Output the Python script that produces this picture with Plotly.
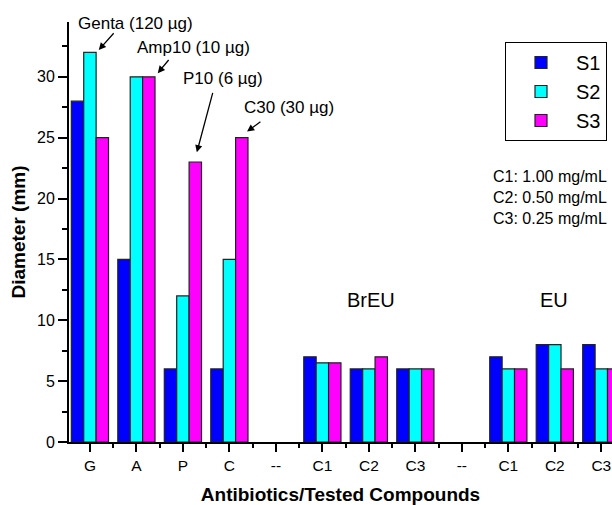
import plotly.graph_objects as go

categories = ["G", "A", "P", "C", "--", "C1", "C2", "C3", "--", "C1", "C2", "C3"]
series_names = ["S1", "S2", "S3"]
s1 = [28, 15, 6, 6, None, 7, 6, 6, None, 7, 8, 8]
s2 = [32, 30, 12, 15, None, 6.5, 6, 6, None, 6, 8, 6]
s3 = [25, 30, 23, 25, None, 6.5, 7, 6, None, 6, 6, 6]
colors = ["#0000FF", "#00FFFF", "#FF00FF"]

FONT = "Arial, Liberation Sans, sans-serif"
xpos = list(range(len(categories)))

fig = go.Figure()
for name, vals, col in zip(series_names, [s1, s2, s3], colors):
    fig.add_trace(go.Bar(
        x=xpos, y=vals, name=name,
        marker=dict(color=col, line=dict(color="#222222", width=1.2)),
    ))

# arrow annotations (tip at bar top, tail near label)
arrows = [
    dict(x=0.19, y=32.2, ax=0.54, ay=33.7),
    dict(x=1.46, y=30.3, ax=1.72, ay=31.5),
    dict(x=2.30, y=23.8, ax=2.65, ay=28.8),
    dict(x=3.38, y=25.5, ax=3.70, ay=26.4),
]
labels = [
    dict(text="Genta (120 µg)", x=0.99, y=34.35),
    dict(text="Amp10 (10 µg)", x=2.22, y=32.4),
    dict(text="P10 (6 µg)", x=2.86, y=29.9),
    dict(text="C30 (30 µg)", x=4.28, y=27.5),
    dict(text="BrEU", x=6.04, y=11.7, size=20),
    dict(text="EU", x=9.98, y=11.7, size=20),
]
for a in arrows:
    fig.add_annotation(x=a["x"], y=a["y"], ax=a["ax"], ay=a["ay"], xref="x", yref="y",
                       axref="x", ayref="y", text="", showarrow=True, arrowhead=2,
                       arrowsize=1.1, arrowwidth=1.3, arrowcolor="black")
for l in labels:
    fig.add_annotation(x=l["x"], y=l["y"], xref="x", yref="y", text=l["text"],
                       showarrow=False, font=dict(family=FONT, size=l.get("size", 17), color="black"))

fig.add_annotation(x=(491 - 69) / 543, y=(442 - 166) / 420, xref="paper", yref="paper",
                   xanchor="left", yanchor="top", align="left", showarrow=False,
                   text="C1: 1.00 mg/mL<br>C2: 0.50 mg/mL<br>C3: 0.25 mg/mL",
                   font=dict(family=FONT, size=16, color="black"))

fig.update_layout(
    width=612, height=505,
    margin=dict(l=69, r=0, t=22, b=63),
    paper_bgcolor="white", plot_bgcolor="white",
    barmode="group", bargap=0.2, bargroupgap=0,
    font=dict(family=FONT, size=16, color="black"),
    legend=dict(x=(505 - 69) / 543, y=(442 - 42) / 420, xanchor="left", yanchor="top",
                bordercolor="black", borderwidth=1, bgcolor="white",
                font=dict(family=FONT, size=20, color="black"),
                tracegroupgap=0, itemwidth=60),
    xaxis=dict(
        range=[-0.45, 11.23], tickmode="array", tickvals=xpos, ticktext=categories,
        showline=True, linecolor="black", linewidth=2, ticks="outside", ticklen=8,
        tickwidth=1.5, tickcolor="black", showgrid=False, zeroline=False,
        minor=dict(tickmode="linear", tick0=0.5, dtick=1, ticks="outside", ticklen=4,
                   tickwidth=1.5, tickcolor="black", showgrid=False),
        title=dict(text="<b>Antibiotics/Tested Compounds</b>", font=dict(size=19), standoff=15),
        tickfont=dict(size=15.5),
    ),
    yaxis=dict(
        range=[0, 34.5], tickmode="linear", tick0=0, dtick=5,
        showline=True, linecolor="black", linewidth=2, ticks="outside", ticklen=9,
        tickwidth=1.5, tickcolor="black", showgrid=False, zeroline=False,
        minor=dict(tickmode="linear", tick0=0, dtick=2.5, ticks="outside", ticklen=5,
                   tickwidth=1.5, tickcolor="black", showgrid=False),
        title=dict(text="<b>Diameter (mm)</b>", font=dict(size=19), standoff=6),
        tickfont=dict(size=16),
    ),
)

fig.write_html("out.html", config={"displayModeBar": False},
               post_script="document.body.style.margin='0';document.body.style.overflow='hidden';")
